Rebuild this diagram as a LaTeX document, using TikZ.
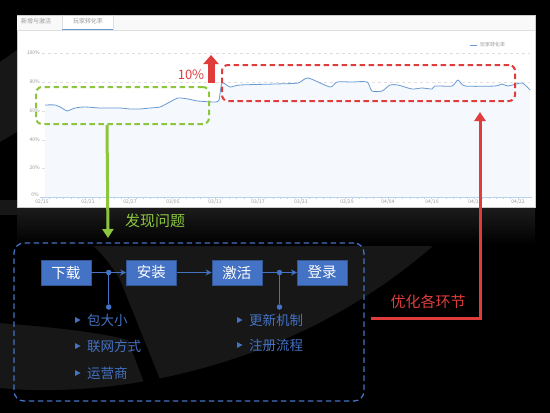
\documentclass[tikz,border=0pt]{standalone}
\usepackage{fontspec}
\setmainfont{Noto Sans CJK SC}
\usetikzlibrary{positioning,arrows.meta,calc}
\definecolor{stepblue}{HTML}{4472C4}
\definecolor{findgreen}{HTML}{8CC63F}
\definecolor{fixred}{HTML}{E03C3C}
\definecolor{lineblue}{HTML}{6A9AD4}
\definecolor{logo}{HTML}{171717}

\newcommand\bullt[1]{\fill[stepblue] ($(#1.west)+(-12,-3)$) -- ++(5.5,3) -- ++(-5.5,3) -- cycle;}

\begin{document}
\begin{tikzpicture}[x=1pt, y=-1pt,
  stage/.style={fill=stepblue, draw=stepblue!75!black, text=white, minimum width=50pt, minimum height=25pt, inner sep=0pt, font=\fontsize{14.5}{16}\selectfont},
  item/.style={text=stepblue, anchor=west, inner sep=0pt, font=\fontsize{13.5}{15}\selectfont},
  tick/.style={text=gray!80, inner sep=0pt, font=\fontsize{5}{6}\selectfont},
  flow/.style={stepblue, line width=1.3pt, -{Stealth[length=6pt,width=6pt]}},
  joint/.style={circle, fill=stepblue, inner sep=0pt, minimum size=5.5pt},
  dashbox/.style={draw, dash pattern=on 5.5pt off 3.5pt, rounded corners=6pt, inner sep=0pt},
  find/.style={findgreen, line width=3pt, -{Triangle[length=9pt,width=11pt]}},
  fix/.style={fixred, line width=3pt, -{Triangle[length=9pt,width=11pt]}}]
\useasboundingbox[fill=black] (0,0) rectangle (550,413);
% faint logo behind
\fill[logo] (0,62) -- (17,50) -- (17,132) -- (0,142) -- cycle;
\fill[logo] (0,200) -- (0,388) .. controls (120,400) and (330,365) .. (480,200) -- cycle;
\fill[black] (0,215) -- (0,323) .. controls (50,327) and (100,332) .. (128,340) -- (148,393) -- (165,392) -- (120,280) .. controls (100,245) and (70,225) .. (40,215) -- cycle;
\shade[top color=gray!22!black, bottom color=black] (17,207) rectangle (535,245);

% chart panel
\filldraw[fill=white, draw=gray!40] (17,15) rectangle (535,207);
\fill[gray!5] (17,15.5) rectangle (534.5,30);
\fill[white] (62,15.5) rectangle (113,30);
\draw[gray!25] (17,30) -- (535,30) (62,15) -- (62,30) (113,15) -- (113,30);
\draw[lineblue, line width=1pt] (62,29.5) -- (113,29.5);
\node[tick, font=\fontsize{6}{7}\selectfont] (tab1) at (36,21) {新增与激活};
\node[tick, font=\fontsize{6}{7}\selectfont] (tab2) at (88,21) {玩家转化率};
\draw[lineblue] (470,45) -- (477,45);
\node[tick, anchor=west] (key) at (480,45) {玩家转化率};
\foreach \v/\y in {100/53, 80/82, 60/111, 40/140, 20/168} {
  \draw[gray!25, dashed] (42,\y) -- (530,\y);
  \node[tick, anchor=east] at (40,\y) {\v\%};
}
\node[tick, anchor=east] at (39,195) {0\%};
\fill[lineblue!7] (45,197) -- (45,105) -- (55,105) -- (62,108) -- (67,111) -- (75,108) -- (85,107) -- (100,108) -- (120,108) -- (130,109) -- (140,109) -- (150,108) -- (160,107) -- (168,103) -- (178,98) -- (188,99) -- (198,101) -- (215,102) -- (219,100) -- (222,83) -- (230,87) -- (240,85) -- (275,84) -- (298,83) -- (308,78) -- (330,87) -- (337,82) -- (352,82) -- (367,82) -- (372,91) -- (382,91) -- (390,85) -- (398,85) -- (412,89) -- (422,88) -- (432,89) -- (435,86) -- (452,86) -- (458,80) -- (465,86) -- (495,86) -- (502,84) -- (508,86) -- (522,83) -- (530,90) -- (530,197) -- cycle;
\draw[lineblue, line width=0.8pt] plot[smooth, tension=0.4] coordinates {(45,105) (55,105) (62,108) (67,111) (75,108) (85,107) (100,108) (120,108) (130,109) (140,109) (150,108) (160,107) (168,103) (178,98) (188,99) (198,101) (215,102) (219,100) (222,83) (230,87) (240,85) (275,84) (298,83) (308,78) (330,87) (337,82) (352,82) (367,82) (372,91) (382,91) (390,85) (398,85) (412,89) (422,88) (432,89) (435,86) (452,86) (458,80) (465,86) (495,86) (502,84) (508,86) (522,83) (530,90)};
\draw[lineblue!45] (40,197) -- (532,197);
\foreach \i in {0,...,66} \draw[lineblue!45] (42+\i*7.21,197) -- ++(0,2);
\foreach \x/\m/\d in {42/02/15, 88/02/21, 130/02/27, 173/03/05, 215/03/11, 258/03/17, 301/03/23, 347/03/29, 388/04/04, 432/04/10, 475/04/16, 518/04/22}
  \node[tick] at (\x,202) {\m/\d};

% marks on the chart
\node[dashbox, draw=findgreen, line width=2pt, minimum width=173pt, minimum height=37pt] (seen) at (122.5,105.5) {};
\node[dashbox, draw=fixred, line width=2pt, minimum width=293pt, minimum height=36pt] (after) at (368.5,83) {};
\coordinate (risefoot) at (211,83);
\coordinate (risetop) at (211,55);
\draw[fixred, line width=7pt, -{Triangle[length=9pt,width=15pt]}] (risefoot) -- (risetop);
\node[text=fixred, font=\fontsize{13}{15}\selectfont] (gain) at (191,75) {10\%};

% process
\node[dashbox, draw=stepblue, line width=1.3pt, rounded corners=10pt, minimum width=350pt, minimum height=158pt] (flowbox) at (189,322) {};
\coordinate (findtip) at (108,238);
\draw[find] ($(seen.south west)+(72,0)$) -- (findtip);
\node[text=findgreen, font=\fontsize{15}{17}\selectfont] (findlbl) at (155,221) {发现问题};

\node[stage] (dl) at (66,272.5) {下载};
\node[stage, right=35pt of dl] (az) {安装};
\node[stage, right=35pt of az] (jh) {激活};
\node[stage, right=35pt of jh] (dlg) {登录};
\coordinate (j1) at ($(dl.east)!0.5!(az.west)$);
\coordinate (j2) at ($(jh.east)!0.5!(dlg.west)$);
\draw[flow] (dl) -- (az);
\draw[flow] (az) -- (jh);
\draw[flow] (jh) -- (dlg);
\node[joint] (k1) at (j1) {};
\node[joint] (k2) at (j2) {};
\node[joint] (d1) at ($(j1)+(0,34.5)$) {};
\node[joint] (d2) at ($(j2)+(0,34.5)$) {};
\draw[stepblue, line width=1.3pt] (k1) -- (d1) (k2) -- (d2);

\node[item] (i1) at (87,320) {包大小};
\node[item] (i2) at (87,346) {联网方式};
\node[item] (i3) at (87,373) {运营商};
\node[item] (i4) at (249,320) {更新机制};
\node[item] (i5) at (249,345) {注册流程};
\bullt{i1} \bullt{i2} \bullt{i3} \bullt{i4} \bullt{i5}

\coordinate (optfoot) at ($(flowbox.east)+(6,-4)$);
\coordinate (opttip) at (480,112);
\draw[fix] (optfoot) -| (opttip);
\node[text=fixred, font=\fontsize{15}{17}\selectfont] (optlbl) at (428,302) {优化各环节};
\end{tikzpicture}
\end{document}
